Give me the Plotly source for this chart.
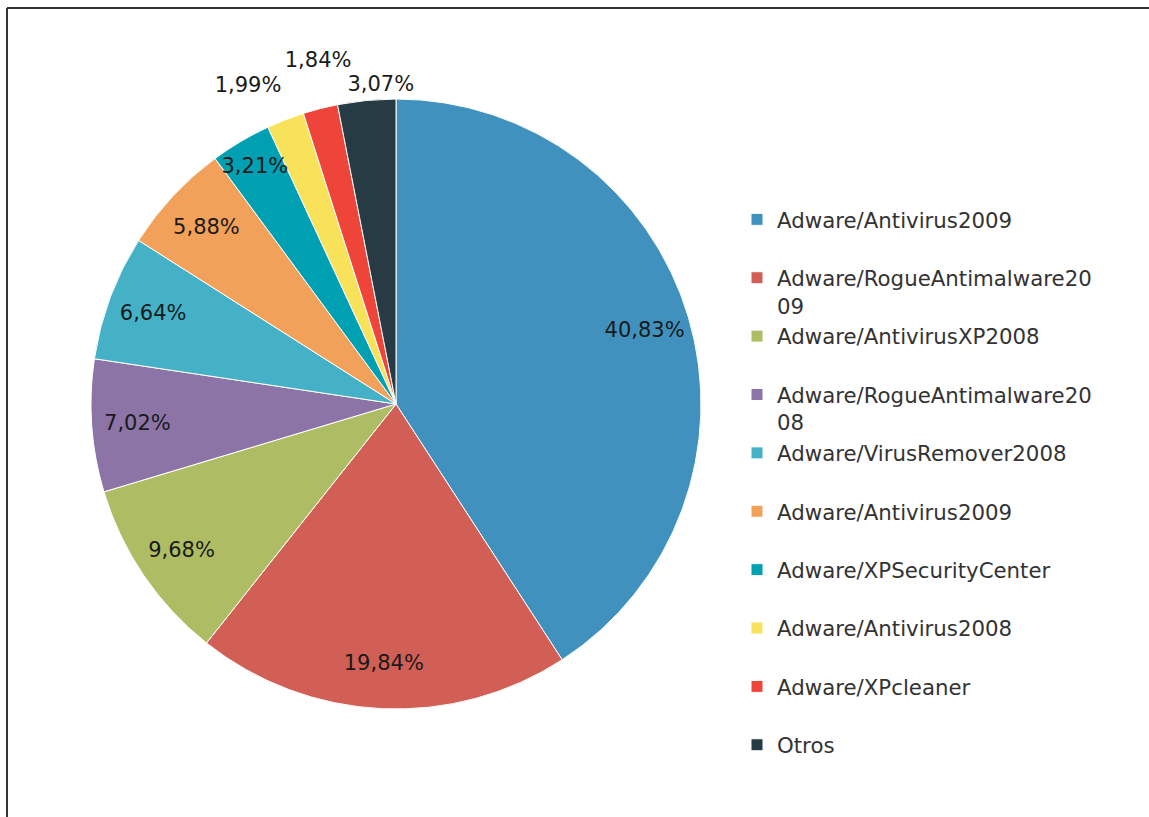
import plotly.graph_objects as go

legend_labels = [
    "Adware/Antivirus2009<br> ",
    "Adware/RogueAntimalware20<br>09",
    "Adware/AntivirusXP2008<br> ",
    "Adware/RogueAntimalware20<br>08",
    "Adware/VirusRemover2008<br> ",
    "Adware/Antivirus2009<br>  ",
    "Adware/XPSecurityCenter<br> ",
    "Adware/Antivirus2008<br> ",
    "Adware/XPcleaner<br> ",
    "Otros<br> ",
]
values = [40.83, 19.84, 9.68, 7.02, 6.64, 5.88, 3.21, 1.99, 1.84, 3.07]
colors = ["#4191BF", "#D15F56", "#AEBD64", "#8D74A6", "#44B1C7",
          "#F2A15A", "#00A0B3", "#F7E25A", "#EE4439", "#263B43"]
# small slices whose labels sit outside the pie: index -> (label ring radius px, angular nudge deg)
outside_labels = {7: (352, -3.6), 8: (351, 1.6), 9: (320, 2.8)}

W, H = 1149, 817
CX, CY, R = 396, 404, 305

def dom(r):
    return dict(x=[(CX - r) / W, (CX + r) / W], y=[(H - CY - r) / H, (H - CY + r) / H])

fmt = [f"{v:.2f}".replace(".", ",") + "%" for v in values]
text_font = dict(family="DejaVu Sans", size=21, color="#1a1a1a")
clear = ["rgba(0,0,0,0)"] * len(values)

traces = [go.Pie(
    labels=legend_labels, values=values, sort=False, direction="clockwise", rotation=0,
    marker=dict(colors=colors, line=dict(color="white", width=1)),
    textinfo="none", domain=dom(R), hoverinfo="label+percent",
)]

# labels inside the slices
traces.append(go.Pie(
    values=values, sort=False, direction="clockwise", rotation=0, hole=0.7,
    marker=dict(colors=clear, line=dict(width=0)),
    text=[("" if i in outside_labels else t) for i, t in enumerate(fmt)],
    textinfo="text", textposition="inside",
    insidetextorientation="horizontal", textfont=text_font,
    domain=dom(R), showlegend=False, hoverinfo="skip",
))

# labels outside the small slices
for idx, (rc, nudge) in outside_labels.items():
    r_out = rc + 22
    traces.append(go.Pie(
        values=values, sort=False, direction="clockwise", rotation=nudge,
        hole=2 * rc / r_out - 1,
        marker=dict(colors=clear, line=dict(width=0)),
        text=[(t if i == idx else "") for i, t in enumerate(fmt)],
        textinfo="text", textposition="inside",
        insidetextorientation="horizontal", textfont=text_font,
        domain=dom(r_out), showlegend=False, hoverinfo="skip",
    ))

fig = go.Figure(traces)

fig.update_layout(
    width=W, height=H,
    margin=dict(l=0, r=0, t=0, b=0),
    paper_bgcolor="white",
    plot_bgcolor="white",
    uniformtext=dict(minsize=21, mode="show"),
    legend=dict(
        x=737 / W, y=1 - 199 / H, xanchor="left", yanchor="top",
        valign="top", traceorder="normal",
        font=dict(family="DejaVu Sans", size=21.3, color="#333333"),
        bgcolor="rgba(0,0,0,0)",
    ),
    shapes=[
        dict(type="line", xref="paper", yref="paper", x0=7 / W, x1=1, y0=1 - 8 / H, y1=1 - 8 / H,
             line=dict(color="#333333", width=2)),
        dict(type="line", xref="paper", yref="paper", x0=7 / W, x1=7 / W, y0=0, y1=1 - 8 / H,
             line=dict(color="#333333", width=2)),
    ],
)

fig.write_html("out.html")
